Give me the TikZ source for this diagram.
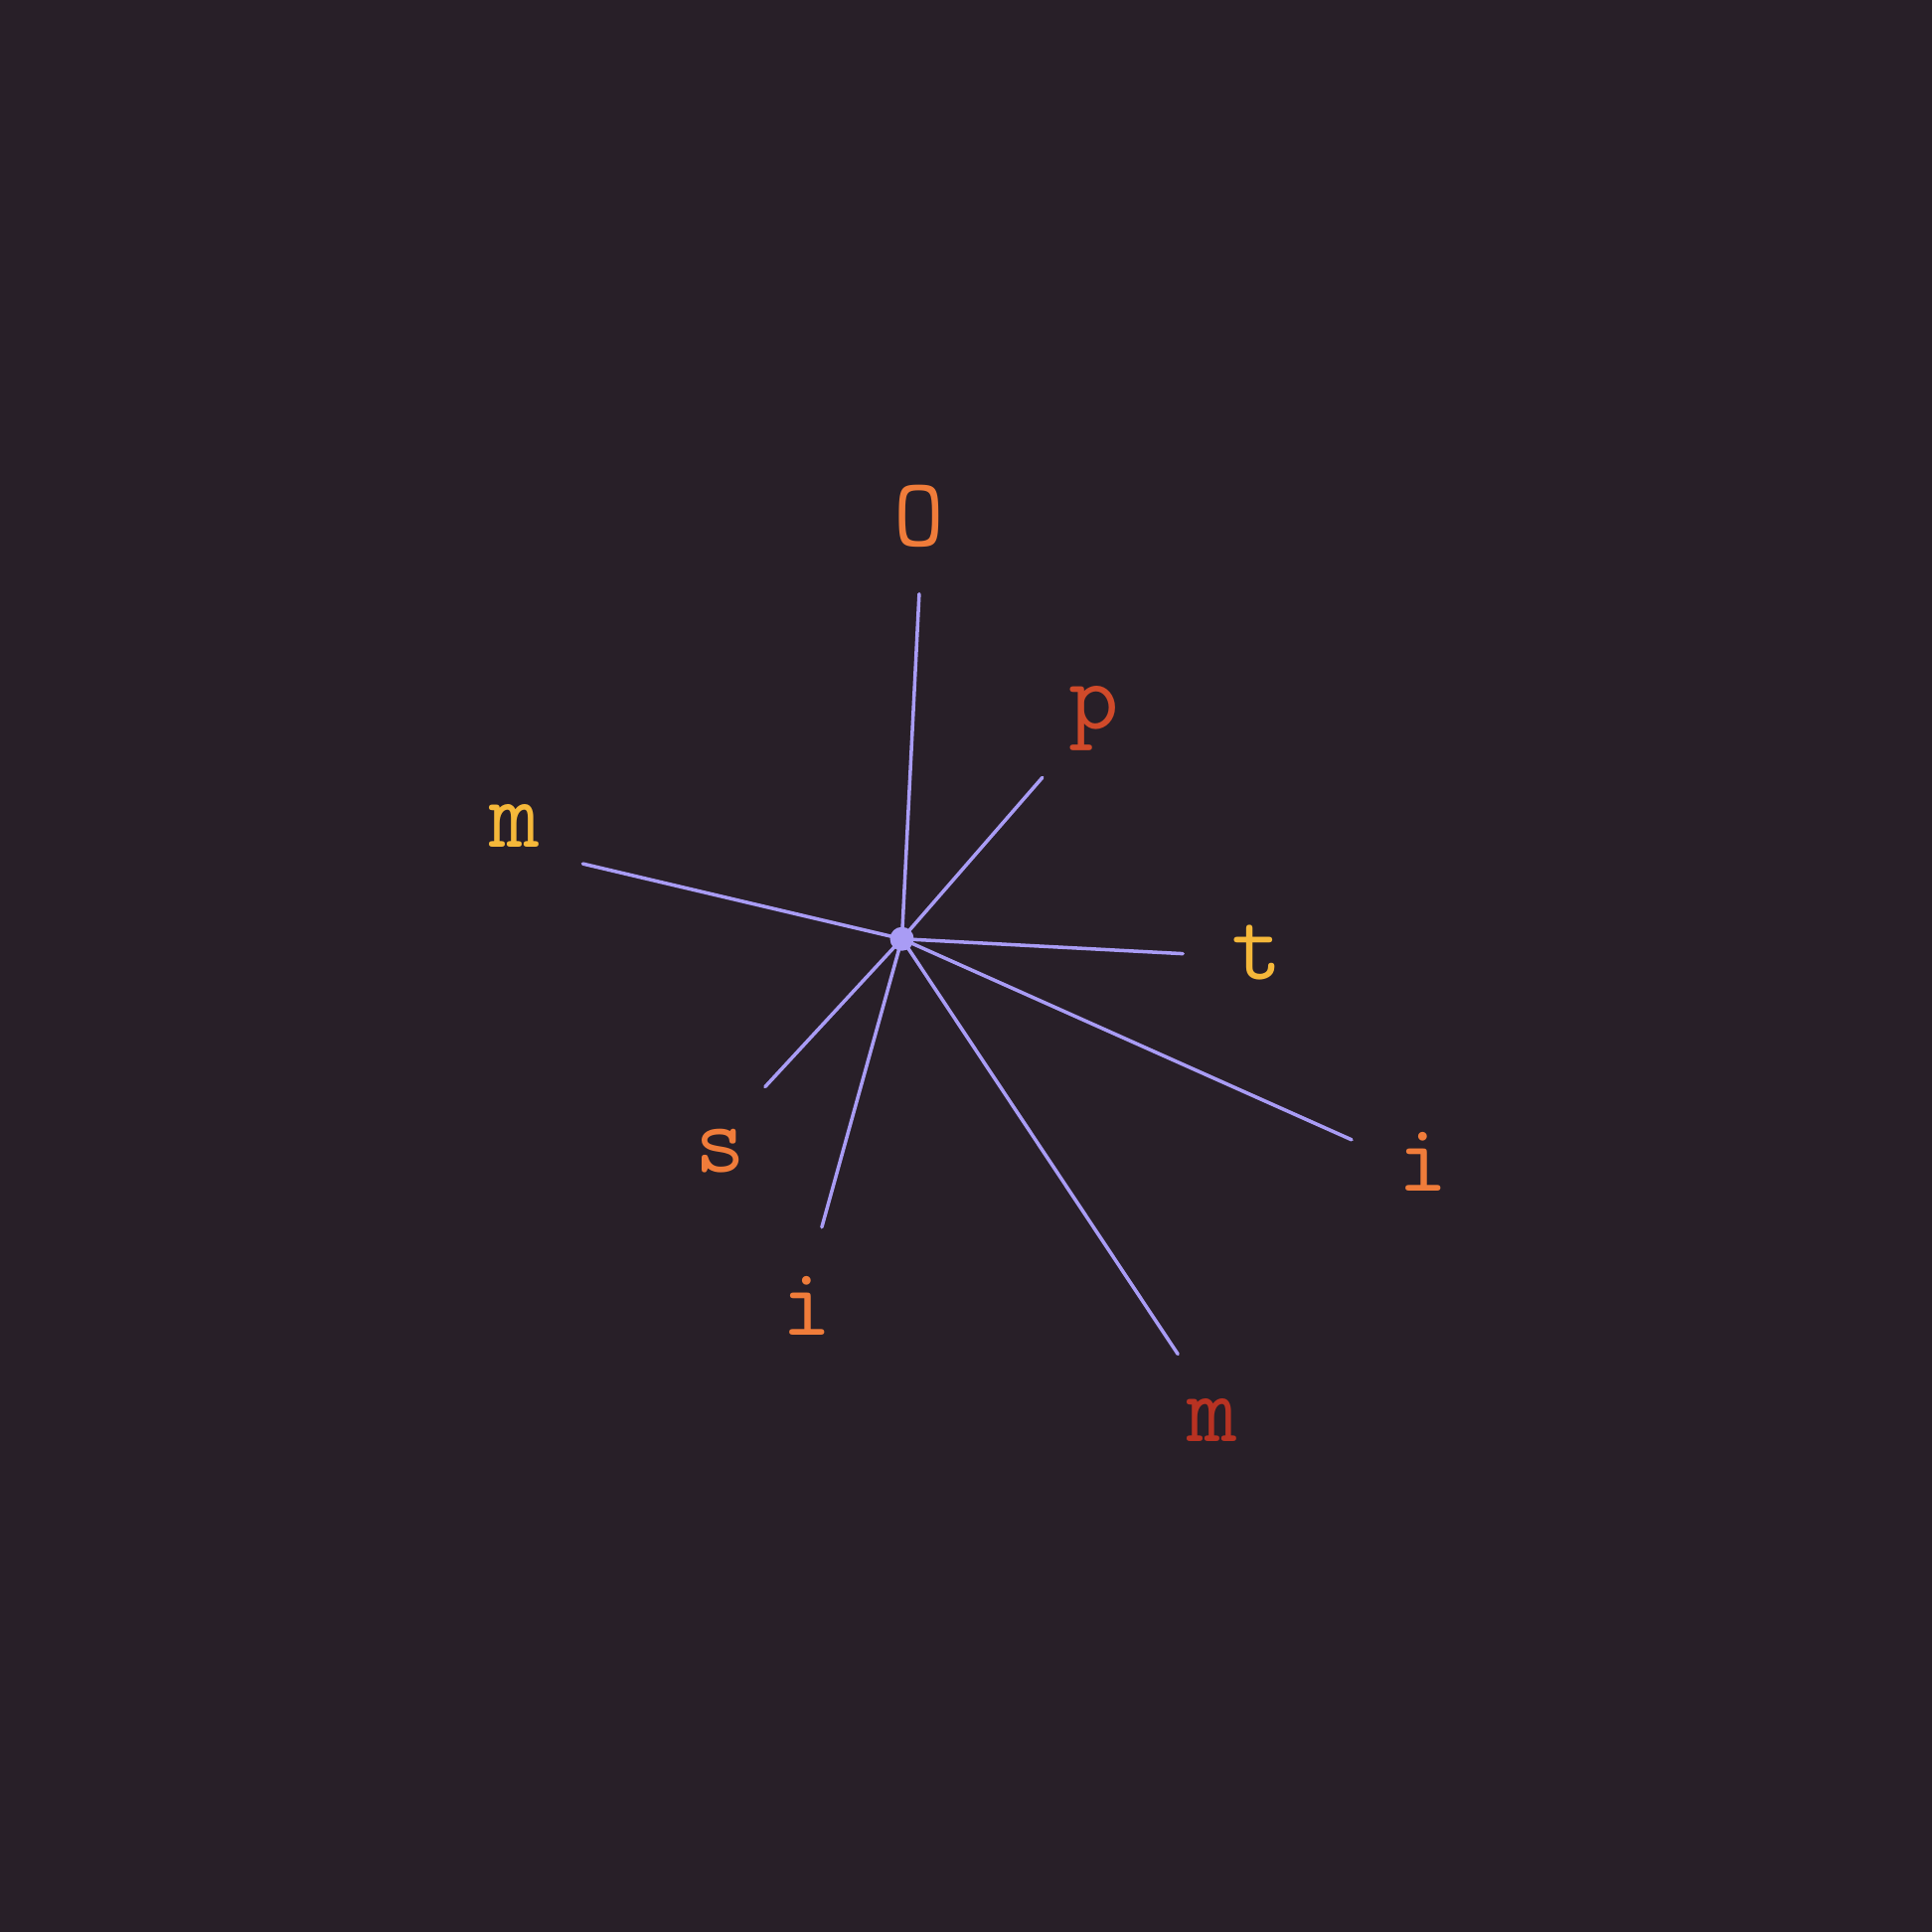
\documentclass[tikz,border=0pt]{standalone}
\usepackage{tikz}

\definecolor{bgcol}{HTML}{281F28}
\definecolor{spokecol}{HTML}{A99CF5}
\definecolor{lblorange}{HTML}{F07C3A}
\definecolor{lblred}{HTML}{D04A2A}
\definecolor{lblyellow}{HTML}{F5B83A}
\definecolor{lbldark}{HTML}{B83222}

\tikzset{
  spoke/.style={spokecol, line width=1pt, line cap=round},
  lbl/.style={font=\ttfamily\fontsize{28}{33}\selectfont, inner sep=0pt},
}

\begin{document}
\begin{tikzpicture}[x=0.01cm,y=-0.01cm]
   \fill[bgcol] (0,0) rectangle (1944,1944);
   \useasboundingbox (0,0) rectangle (1944,1944);
   % hub and spoke ends
   \coordinate (hub) at (907.5,944.7);
   \coordinate (endO) at (924.9,597.6);
   \coordinate (endP) at (1048.9,782.3);
   \coordinate (endMl) at (586.4,869.1);
   \coordinate (endT) at (1190.2,959.6);
   \coordinate (endIr) at (1360.0,1146.8);
   \coordinate (endMb) at (1185.2,1362.5);
   \coordinate (endIb) at (826.9,1234.8);
   \coordinate (endS) at (769.9,1093.5);
   \draw[spoke] (hub) -- (endO);
   \draw[spoke] (hub) -- (endP);
   \draw[spoke] (hub) -- (endMl);
   \draw[spoke] (hub) -- (endT);
   \draw[spoke] (hub) -- (endIr);
   \draw[spoke] (hub) -- (endMb);
   \draw[spoke] (hub) -- (endIb);
   \draw[spoke] (hub) -- (endS);
   \fill[spokecol] (hub) circle (12);
   % labels
   \node[lbl, lblorange] (labO) at (924.9,519.5) {O};
   \node[lbl, lblred] (labP) at (1100.9,722.5) {p};
   \node[lbl, lblyellow] (labMl) at (518.2,830.7) {m};
   \node[lbl, lblyellow] (labT) at (1264.6,958.4) {t};
   \node[lbl, lblorange] (labIr) at (1432.0,1169.1) {i};
   \node[lbl, lbldark] (labMb) at (1219.9,1429.4) {m};
   \node[lbl, lblorange] (labIb) at (812.1,1314.2) {i};
   \node[lbl, lblorange] (labS) at (725.3,1158.0) {s};
\end{tikzpicture}
\end{document}
